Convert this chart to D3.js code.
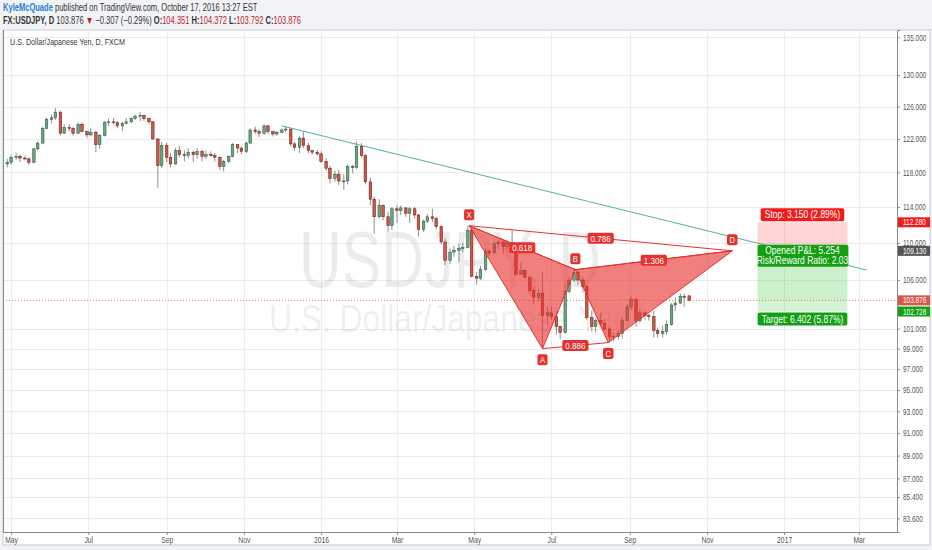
<!DOCTYPE html>
<html>
<head>
<meta charset="utf-8">
<script src="https://cdn.jsdelivr.net/npm/d3@7"></script>
<style>
  body { margin: 0; background: #f1f3f6; }
  svg { display: block; font-family: "Liberation Sans", Arial, sans-serif; }
</style>
</head>
<body>
<svg id="chart" width="932" height="550"></svg>
<script>
// USDJPY, half-week candles: [date, open, high, low, close]
const candles = [
  ["2015-04-27",119.0,119.6,118.6,119.2],["2015-04-30",119.2,120.1,118.9,119.8],
  ["2015-05-04",119.8,120.3,119.5,119.9],["2015-05-07",119.9,120.1,119.2,119.7],
  ["2015-05-11",119.7,120.0,119.4,119.6],["2015-05-14",119.6,119.8,118.9,119.2],
  ["2015-05-18",119.2,120.9,119.1,120.8],["2015-05-21",120.8,121.7,120.6,121.5],
  ["2015-05-25",121.5,123.5,121.4,123.3],["2015-05-28",123.3,124.6,123.2,124.4],
  ["2015-06-01",124.4,125.0,123.9,124.6],["2015-06-04",124.6,125.8,124.3,125.3],
  ["2015-06-08",125.3,125.5,122.5,122.7],["2015-06-11",122.7,123.8,122.6,123.4],
  ["2015-06-15",123.4,123.8,122.9,123.3],["2015-06-18",123.3,123.5,122.4,122.7],
  ["2015-06-22",122.7,124.0,122.6,123.8],["2015-06-25",123.8,124.0,122.8,122.9],
  ["2015-06-29",122.9,123.0,122.1,122.5],["2015-07-02",122.5,123.3,122.3,122.8],
  ["2015-07-06",122.8,123.0,120.4,121.3],["2015-07-09",121.3,122.6,120.8,122.4],
  ["2015-07-13",122.4,124.2,122.3,124.0],["2015-07-16",124.0,124.5,123.6,124.1],
  ["2015-07-20",124.1,124.6,123.8,124.0],["2015-07-23",124.0,124.2,123.3,123.6],
  ["2015-07-27",123.6,124.1,123.0,123.9],["2015-07-30",123.9,124.6,123.8,124.1],
  ["2015-08-03",124.1,124.7,123.9,124.5],["2015-08-06",124.5,125.0,124.3,124.8],
  ["2015-08-10",124.8,125.3,124.2,124.9],["2015-08-13",124.9,125.0,124.2,124.5],
  ["2015-08-17",124.5,124.6,123.8,124.1],["2015-08-20",124.1,124.2,121.9,122.0],
  ["2015-08-24",122.0,122.1,116.2,118.8],["2015-08-27",118.8,121.6,118.5,121.2],
  ["2015-08-31",121.2,121.5,119.2,119.8],["2015-09-03",119.8,120.3,118.6,119.0],
  ["2015-09-07",119.0,120.9,118.9,120.6],["2015-09-10",120.6,121.2,119.8,120.1],
  ["2015-09-14",120.1,120.6,119.3,120.0],["2015-09-17",120.0,120.9,119.7,120.4],
  ["2015-09-21",120.4,120.6,119.2,120.1],["2015-09-24",120.1,120.9,119.6,120.5],
  ["2015-09-28",120.5,120.7,119.3,119.9],["2015-10-01",119.9,120.6,119.6,120.1],
  ["2015-10-05",120.1,120.5,119.8,120.0],["2015-10-08",120.0,120.3,119.3,119.8],
  ["2015-10-12",119.8,119.9,118.3,118.7],["2015-10-15",118.7,119.5,118.1,119.3],
  ["2015-10-19",119.3,120.0,119.1,119.9],["2015-10-22",119.9,121.5,119.8,121.3],
  ["2015-10-26",121.3,121.4,120.3,120.9],["2015-10-29",120.9,121.1,120.2,120.5],
  ["2015-11-02",120.5,121.7,120.3,121.5],["2015-11-05",121.5,123.3,121.4,123.1],
  ["2015-11-09",123.1,123.5,122.6,122.9],["2015-11-12",122.9,123.2,122.2,122.7],
  ["2015-11-16",122.7,123.8,122.5,123.6],["2015-11-19",123.6,123.7,122.6,122.9],
  ["2015-11-23",122.9,123.0,122.3,122.6],["2015-11-26",122.6,123.0,122.4,122.8],
  ["2015-11-30",122.8,123.3,122.7,123.1],["2015-12-03",123.1,123.6,122.8,123.2],
  ["2015-12-07",123.2,123.4,121.1,121.4],["2015-12-10",121.4,121.6,120.6,121.0],
  ["2015-12-14",121.0,122.3,120.3,122.1],["2015-12-17",122.1,122.9,120.9,121.2],
  ["2015-12-21",121.2,121.5,120.3,120.6],["2015-12-24",120.6,120.7,120.1,120.4],
  ["2015-12-28",120.4,120.7,120.0,120.2],["2015-12-31",120.2,120.5,119.1,119.3],
  ["2016-01-04",119.3,119.7,118.2,118.5],["2016-01-07",118.5,118.8,116.7,117.3],
  ["2016-01-11",117.3,118.2,116.9,117.8],["2016-01-14",117.8,118.3,116.5,117.0],
  ["2016-01-18",117.0,117.8,115.98,117.0],["2016-01-21",117.0,118.9,116.6,118.7],
  ["2016-01-25",118.7,118.9,117.9,118.6],["2016-01-28",118.6,121.7,118.4,121.1],
  ["2016-02-01",121.1,121.5,119.8,120.0],["2016-02-04",120.0,120.2,116.6,116.9],
  ["2016-02-08",116.9,117.4,114.2,114.9],["2016-02-11",114.9,115.2,110.98,112.9],
  ["2016-02-15",112.9,114.9,112.7,114.2],["2016-02-18",114.2,114.3,112.5,112.9],
  ["2016-02-22",112.9,113.4,111.2,111.9],["2016-02-25",111.9,114.0,111.4,113.8],
  ["2016-02-29",113.8,114.2,112.2,113.6],["2016-03-03",113.6,114.2,113.1,113.9],
  ["2016-03-07",113.9,114.0,112.9,113.3],["2016-03-10",113.3,114.0,112.2,113.8],
  ["2016-03-14",113.8,114.0,112.7,113.1],["2016-03-17",113.1,113.2,110.7,111.5],
  ["2016-03-21",111.5,112.6,111.2,112.4],["2016-03-24",112.4,113.2,112.2,112.9],
  ["2016-03-28",112.9,113.8,112.3,112.7],["2016-03-31",112.7,112.9,111.5,111.8],
  ["2016-04-04",111.8,111.9,109.8,110.1],["2016-04-07",110.1,110.5,107.6,108.1],
  ["2016-04-11",108.1,109.4,107.7,109.0],["2016-04-14",109.0,109.7,108.5,109.2],
  ["2016-04-18",109.2,109.9,107.9,109.4],["2016-04-21",109.4,110.0,109.0,109.5],
  ["2016-04-25",109.5,111.9,109.4,111.4],["2016-04-28",111.4,111.8,106.3,106.4],
  ["2016-05-02",106.4,106.9,105.5,106.2],["2016-05-05",106.2,107.5,106.0,107.1],
  ["2016-05-09",107.1,109.4,107.0,109.1],["2016-05-12",109.1,109.3,108.6,108.9],
  ["2016-05-16",108.9,110.2,108.8,109.9],["2016-05-19",109.9,110.3,109.4,110.1],
  ["2016-05-23",110.1,110.2,108.8,109.6],["2016-05-26",109.6,110.3,109.2,110.0],
  ["2016-05-30",110.0,111.4,109.2,109.5],["2016-06-02",109.5,109.6,106.5,106.6],
  ["2016-06-06",106.6,107.9,106.6,107.0],["2016-06-09",107.0,107.2,106.2,106.3],
  ["2016-06-13",106.3,106.4,104.5,104.9],["2016-06-16",104.9,105.3,103.5,104.2],
  ["2016-06-20",104.2,105.0,103.8,104.6],["2016-06-23",104.6,106.8,99.0,102.3],
  ["2016-06-27",102.3,103.2,101.4,102.6],["2016-06-30",102.6,103.3,101.9,102.2],
  ["2016-07-04",102.2,102.8,100.4,101.2],["2016-07-07",101.2,101.3,99.99,100.6],
  ["2016-07-11",100.6,105.5,100.5,104.8],["2016-07-14",104.8,106.3,104.6,106.0],
  ["2016-07-18",106.0,107.3,105.8,106.8],["2016-07-21",106.8,107.0,105.5,106.0],
  ["2016-07-25",106.0,106.4,104.7,105.3],["2016-07-28",105.3,105.5,101.9,102.1],
  ["2016-08-01",102.1,102.8,100.7,101.2],["2016-08-04",101.2,102.0,100.6,101.8],
  ["2016-08-08",101.8,102.6,101.2,101.5],["2016-08-11",101.5,102.0,100.9,100.95],
  ["2016-08-15",100.95,101.2,99.6,100.2],["2016-08-18",100.2,100.6,99.7,100.2],
  ["2016-08-22",100.2,100.8,99.9,100.5],["2016-08-25",100.5,102.2,100.0,101.8],
  ["2016-08-29",101.8,103.5,101.7,103.2],["2016-09-01",103.2,104.3,102.9,104.0],
  ["2016-09-05",104.0,104.1,101.2,101.8],["2016-09-08",101.8,103.0,101.6,102.6],
  ["2016-09-12",102.6,102.8,101.9,102.3],["2016-09-15",102.3,102.5,101.8,102.2],
  ["2016-09-19",102.2,102.8,100.1,100.8],["2016-09-22",100.8,101.1,100.1,100.5],
  ["2016-09-26",100.5,101.3,100.1,100.7],["2016-09-29",100.7,101.8,100.4,101.4],
  ["2016-10-03",101.4,103.6,101.3,103.4],["2016-10-06",103.4,104.2,102.8,103.6],
  ["2016-10-10",103.6,104.6,103.5,104.3],["2016-10-13",104.3,104.6,103.2,104.2],
  ["2016-10-17",104.351,104.372,103.792,103.876]
];

const priceTicks = [135, 130, 126, 122, 118, 114, 110, 106, 101, 99, 97, 95, 93, 91, 89, 87, 85.4, 83.6];
const timeTicks = ["2015-05-01","2015-07-01","2015-09-01","2015-11-01","2016-01-01","2016-03-01",
                   "2016-05-01","2016-07-01","2016-09-01","2016-11-01","2017-01-01","2017-03-01"];
const timeTickLabels = ["May","Jul","Sep","Nov","2016","Mar","May","Jul","Sep","Nov","2017","Mar"];

// harmonic pattern
const patternNames = ["X", "A", "B", "C", "D"];
const patternDates = ["2016-04-27", "2016-06-24", "2016-07-20", "2016-08-15", "2016-11-21"];
const patternPrices = [111.9, 99.0, 107.1, 99.6, 109.13];
const ratioLegs = [[0, 2], [1, 3], [0, 4], [2, 4]];
const ratioLabels = ["0.618", "0.886", "0.786", "1.306"];

// trend line
const trendDates = ["2015-12-01", "2017-03-07"];
const trendPrices = [123.6, 107.07];

// short position tool
const lastPrice = 103.876;
const entryPrice = 109.130;
const stopPrice = 112.280;
const targetPrice = 102.728;
const positionDates = ["2016-12-11", "2017-02-20"];

const PLOT = { left: 3, right: 897, top: 30, bottom: 532 };
const DAY = 864e5;

const svg = d3.select("#chart");

const x = d3.scaleUtc()
  .domain([new Date("2015-04-25"), new Date("2017-04-01")])
  .range([3.5, 898]);
const y = d3.scaleLog()
  .domain([82.47, 135.99])
  .range([PLOT.bottom, PLOT.top]);

// squeeze text horizontally around its own x (the screenshot is narrow)
function squeeze(sel, k) {
  sel.each(function () {
    const t = d3.select(this);
    const x0 = +t.attr("x") || 0;
    t.attr("transform", `translate(${x0},0) scale(${k},1) translate(${-x0},0)`);
  });
}
// squeeze so the text gets a given width
function fitWidth(sel, w) {
  squeeze(sel, w / sel.node().getComputedTextLength());
}

// header
const h1 = svg.append("text").attr("x", 3).attr("y", 11).attr("font-size", 10.5);
h1.append("tspan").attr("fill", "#2a7ed2").attr("font-weight", "bold").text("KyleMcQuade");
h1.append("tspan").attr("fill", "#333").text(" published on TradingView.com, October 17, 2016 13:27 EST");
fitWidth(h1, 255);

const RED = "#b8262c";
const h2parts = [
  ["FX:USDJPY, D", "#333", "bold"], [" 103.876 ", "#333"], ["▼", "#c4161c"], [" −0.307 (−0.29%)  ", "#333"],
  ["O:", "#333", "bold"], ["104.351 ", RED], ["H:", "#333", "bold"], ["104.372 ", RED],
  ["L:", "#333", "bold"], ["103.792 ", RED], ["C:", "#333", "bold"], ["103.876", RED]
];
const h2 = svg.append("text").attr("x", 3).attr("y", 24).attr("font-size", 10.5);
h2parts.forEach(p => h2.append("tspan").attr("fill", p[1]).attr("font-weight", p[2] || "normal").text(p[0]));
fitWidth(h2, 299);

// chart box
svg.append("rect").attr("x", 3).attr("y", 30).attr("width", 927).attr("height", 515)
  .attr("fill", "#fff").attr("stroke", "#c7ccd1");

svg.append("clipPath").attr("id", "plot")
  .append("rect").attr("x", PLOT.left).attr("y", PLOT.top)
  .attr("width", PLOT.right - PLOT.left).attr("height", PLOT.bottom - PLOT.top);

const g = svg.append("g").attr("clip-path", "url(#plot)");

// grid
g.selectAll("line.hgrid").data(priceTicks).join("line")
  .attr("x1", PLOT.left).attr("x2", PLOT.right)
  .attr("y1", d => Math.round(y(d)) + 0.5).attr("y2", d => Math.round(y(d)) + 0.5)
  .attr("stroke", "#ececec");
g.selectAll("line.vgrid").data(timeTicks).join("line")
  .attr("x1", d => Math.round(x(new Date(d))) + 0.5).attr("x2", d => Math.round(x(new Date(d))) + 0.5)
  .attr("y1", PLOT.top).attr("y2", PLOT.bottom)
  .attr("stroke", "#ececec");

// watermark
const cxPlot = (PLOT.left + PLOT.right) / 2;
const wm1 = g.append("text").attr("x", cxPlot).attr("y", 287).attr("text-anchor", "middle")
  .attr("font-size", 80).attr("fill", "#000").attr("fill-opacity", 0.075).text("USDJPY, D");
fitWidth(wm1, 302);
const wm2 = g.append("text").attr("x", cxPlot).attr("y", 332).attr("text-anchor", "middle")
  .attr("font-size", 38).attr("fill", "#000").attr("fill-opacity", 0.075).text("U.S. Dollar/Japanese Yen");
fitWidth(wm2, 362);

// title
const title = svg.append("text").attr("x", 10).attr("y", 45).attr("font-size", 9.5).attr("fill", "#3a3a3a")
  .text("U.S. Dollar/Japanese Yen, D, FXCM");
fitWidth(title, 115);

// candles
const cx = d => x(new Date(new Date(d[0]).getTime() + DAY));
const bw = 2.6;
const candleG = g.append("g");
candleG.selectAll("line").data(candles).join("line")
  .attr("x1", cx).attr("x2", cx)
  .attr("y1", d => y(d[2])).attr("y2", d => y(d[3]))
  .attr("stroke", "#737375").attr("stroke-width", 0.8);
candleG.selectAll("rect").data(candles).join("rect")
  .attr("x", d => cx(d) - bw / 2).attr("width", bw)
  .attr("y", d => y(Math.max(d[1], d[4])))
  .attr("height", d => Math.max(0.8, Math.abs(y(d[1]) - y(d[4]))))
  .attr("fill", d => d[4] >= d[1] ? "#6ba583" : "#d75442")
  .attr("stroke", d => d[4] >= d[1] ? "#225437" : "#5b1a13")
  .attr("stroke-width", 0.5);

// last price line
g.append("line")
  .attr("x1", PLOT.left).attr("x2", PLOT.right)
  .attr("y1", y(lastPrice)).attr("y2", y(lastPrice))
  .attr("stroke", "#dd6b4d").attr("stroke-dasharray", "1,2").attr("stroke-opacity", 0.9);

// trend line
g.append("line")
  .attr("x1", x(new Date(trendDates[0]))).attr("y1", y(trendPrices[0]))
  .attr("x2", x(new Date(trendDates[1]))).attr("y2", y(trendPrices[1]))
  .attr("stroke", "#4fb3a1").attr("stroke-width", 1);

// pattern
const pts = patternDates.map((d, i) => [x(new Date(d)), y(patternPrices[i])]);
const PAT = "#e8312f";
g.selectAll("path.tri").data([[0, 1, 2], [2, 3, 4]]).join("path")
  .attr("d", t => d3.line()(t.map(i => pts[i])) + "Z")
  .attr("fill", PAT).attr("fill-opacity", 0.62)
  .attr("stroke", PAT).attr("stroke-width", 1);
g.selectAll("line.leg").data(ratioLegs).join("line")
  .attr("x1", l => pts[l[0]][0]).attr("y1", l => pts[l[0]][1])
  .attr("x2", l => pts[l[1]][0]).attr("y2", l => pts[l[1]][1])
  .attr("stroke", PAT).attr("stroke-width", 1);

function tag(parent, cxv, cyv, txt, fill, size, padX, hgt) {
  const k = 0.85;
  const t = parent.append("text").attr("x", cxv).attr("y", cyv + size * 0.36)
    .attr("text-anchor", "middle").attr("font-size", size).attr("fill", "#fff").text(txt);
  const w = t.node().getComputedTextLength() * k + padX * 2;
  squeeze(t, k);
  parent.insert("rect", () => t.node()).attr("x", cxv - w / 2).attr("y", cyv - hgt / 2)
    .attr("width", w).attr("height", hgt).attr("rx", 2).attr("fill", fill);
  return t;
}

const labelG = svg.append("g");
ratioLegs.forEach((l, i) => {
  const mx = (pts[l[0]][0] + pts[l[1]][0]) / 2;
  const my = (pts[l[0]][1] + pts[l[1]][1]) / 2;
  tag(labelG, mx, my, ratioLabels[i], PAT, 9.5, 3, 11);
});
const above = [true, false, true, false, true];
patternNames.forEach((n, i) => {
  tag(labelG, pts[i][0], pts[i][1] + (above[i] ? -11 : 11), n, PAT, 9, 2.5, 11);
});

// position tool (short)
const px0 = x(new Date(positionDates[0])), px1 = x(new Date(positionDates[1]));
const posG = svg.append("g");
posG.append("rect").attr("x", px0).attr("width", px1 - px0)
  .attr("y", y(stopPrice)).attr("height", y(entryPrice) - y(stopPrice))
  .attr("fill", "#ff3b3b").attr("fill-opacity", 0.22);
posG.append("rect").attr("x", px0).attr("width", px1 - px0)
  .attr("y", y(entryPrice)).attr("height", y(targetPrice) - y(entryPrice))
  .attr("fill", "#3cc83c").attr("fill-opacity", 0.22);
posG.append("rect").attr("x", px0).attr("width", px1 - px0)
  .attr("y", y(entryPrice)).attr("height", y(lastPrice) - y(entryPrice))
  .attr("fill", "#3cc83c").attr("fill-opacity", 0.06);
const pmid = (px0 + px1) / 2;
tag(posG, pmid, y(stopPrice) - 7.5, "Stop: 3.150 (2.89%)", "#f01c1c", 10, 4, 13);
tag(posG, pmid, y(targetPrice) + 7.5, "Target: 6.402 (5.87%)", "#14a014", 10, 4, 13);
posG.append("rect").attr("x", px0).attr("y", y(entryPrice) - 6).attr("width", px1 - px0 + 1)
  .attr("height", 22).attr("rx", 2).attr("fill", "#14a014");
const pl1 = posG.append("text").attr("x", pmid).attr("y", y(entryPrice) + 3.5).attr("text-anchor", "middle")
  .attr("font-size", 10).attr("fill", "#fff").text("Opened P&L: 5.254");
const pl2 = posG.append("text").attr("x", pmid).attr("y", y(entryPrice) + 13).attr("text-anchor", "middle")
  .attr("font-size", 10).attr("fill", "#fff").text("Risk/Reward Ratio: 2.03");
squeeze(pl1, 0.85);
squeeze(pl2, 0.85);

// axes
const yAxis = svg.append("g").attr("transform", `translate(${PLOT.right},0)`)
  .call(d3.axisRight(y).tickValues(priceTicks).tickFormat(d3.format(".3f")).tickSize(3).tickPadding(3));
const xAxis = svg.append("g").attr("transform", `translate(0,${PLOT.bottom})`)
  .call(d3.axisBottom(x).tickValues(timeTicks.map(d => new Date(d)))
    .tickFormat((d, i) => timeTickLabels[i]).tickSize(3).tickPadding(2));
[yAxis, xAxis].forEach(a => {
  a.select(".domain").attr("stroke", "#8a8a8a");
  a.selectAll(".tick line").attr("stroke", "#8a8a8a");
  a.selectAll(".tick text").attr("fill", "#555").attr("font-size", 8.5)
    .attr("font-family", "'Liberation Sans', Arial, sans-serif");
});
squeeze(yAxis.selectAll(".tick text"), 0.76);
squeeze(xAxis.selectAll(".tick text"), 0.8);
xAxis.select(".domain").attr("d", `M${PLOT.left},0.5H${PLOT.right}`);
svg.append("line").attr("x1", PLOT.left + 0.5).attr("x2", PLOT.left + 0.5)
  .attr("y1", PLOT.top).attr("y2", PLOT.bottom).attr("stroke", "#8a8a8a");

// price labels on the axis
const axisLabels = [
  [stopPrice, "#f01c1c"], [entryPrice, "#555555"], [lastPrice, "#d8584a"], [targetPrice, "#14a014"]
];
axisLabels.forEach(([p, c]) => {
  svg.append("rect").attr("x", PLOT.right + 1).attr("y", y(p) - 5).attr("width", 32).attr("height", 10).attr("fill", c);
  const t = svg.append("text").attr("x", PLOT.right + 6).attr("y", y(p) + 3).attr("font-size", 8.5)
    .attr("fill", "#fff").text(d3.format(".3f")(p));
  squeeze(t, 0.76);
});
</script>
</body>
</html>
